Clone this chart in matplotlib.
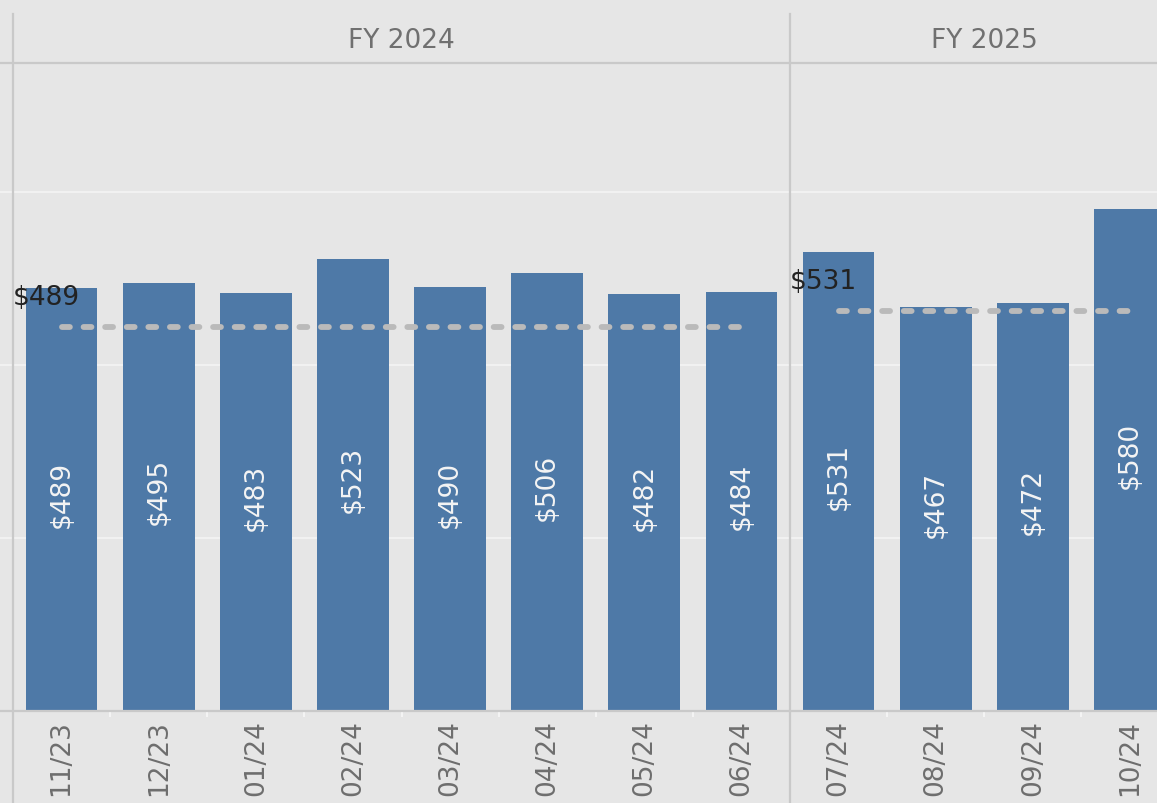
import matplotlib
matplotlib.use("Agg")
import matplotlib.pyplot as plt
from matplotlib.transforms import blended_transform_factory

# data
fy_titles = ["FY 2024", "FY 2025"]
months_2024 = ["11/23", "12/23", "01/24", "02/24", "03/24", "04/24", "05/24", "06/24"]
values_2024 = [489, 495, 483, 523, 490, 506, 482, 484]
ref_2024 = 444
months_2025 = ["07/24", "08/24", "09/24", "10/24"]
values_2025 = [531, 467, 472, 580]
ref_2025 = 463

BG = "#e6e6e6"
BAR = "#4e79a7"
LINE = "#c9c9c9"
FONT = 19

W, H = 1157, 804
top_px, base_px = 64, 712
slot = (790 - 13) / 8.0
y_max = (base_px - top_px) / 0.865

plt.rcParams["font.family"] = "DejaVu Sans"
fig = plt.figure(figsize=(W / 100, H / 100), dpi=100, facecolor=BG)


def draw_panel(left_px, right_px, xlim, months, values, ref, title):
    ax = fig.add_axes([left_px / W, (H - base_px) / H,
                       (right_px - left_px) / W, (base_px - top_px) / H])
    ax.set_facecolor(BG)
    ax.set_xlim(*xlim)
    ax.set_ylim(0, y_max)
    ax.set_axisbelow(True)

    x = list(range(len(values)))
    ax.bar(x, values, width=0.74, color=BAR, zorder=2)

    # labels inside bars
    for xi, v in zip(x, values):
        ax.annotate("$%d" % v, xy=(xi, v / 2), xytext=(0, 6), textcoords="offset pixels",
                    rotation=90, ha="center", va="center", color="#f4f4f4",
                    fontsize=FONT, zorder=4)

    # dashed reference line
    ax.plot([x[0], x[-1]], [ref, ref], color="#bababa", lw=4.2, solid_capstyle="round",
            dash_capstyle="round", dashes=(1.35, 2.35), zorder=3)
    ax.annotate("$%d" % values[0], xy=(-0.5, ref), xytext=(0, 30), textcoords="offset pixels",
                ha="left", va="center", color="#222222", fontsize=FONT, zorder=5)

    # grid, axes lines
    ax.set_yticks([200, 400, 600])
    ax.yaxis.grid(True, color="#f3f3f3", lw=1.3)
    ax.tick_params(axis="y", length=0, labelleft=False)
    for s in ["left", "right"]:
        ax.spines[s].set_visible(False)
    for s in ["top", "bottom"]:
        ax.spines[s].set_color(LINE)
        ax.spines[s].set_linewidth(1.6)
    ax.axvline(-0.5, ymin=-(H - base_px) / (base_px - top_px), ymax=1 + (top_px - 15) / (base_px - top_px),
               color=LINE, lw=1.6, clip_on=False, zorder=6)

    ax.set_xticks(x)
    ax.set_xticklabels(months, rotation=90, fontsize=FONT, color="#6e6e6e", va="top")
    ax.tick_params(axis="x", length=0, pad=6)
    ax.set_xticks([i + 0.5 for i in x[:-1]], minor=True)
    ax.tick_params(axis="x", which="minor", length=4, width=1.2, color="#f7f7f7", direction="out")

    trans = blended_transform_factory(ax.transData, ax.transAxes)
    ax.text((len(values) - 1) / 2, 1 + (top_px - 41) / (base_px - top_px), title,
            transform=trans, ha="center", va="center", fontsize=FONT, color="#707070",
            clip_on=False)
    return ax


draw_panel(0, 790, (-0.5 - 13 / slot, 7.5), months_2024, values_2024, ref_2024, fy_titles[0])
draw_panel(790, W, (-0.5, -0.5 + (W - 790) / slot), months_2025, values_2025, ref_2025, fy_titles[1])

fig.savefig("out.png", dpi=100, facecolor=BG)
